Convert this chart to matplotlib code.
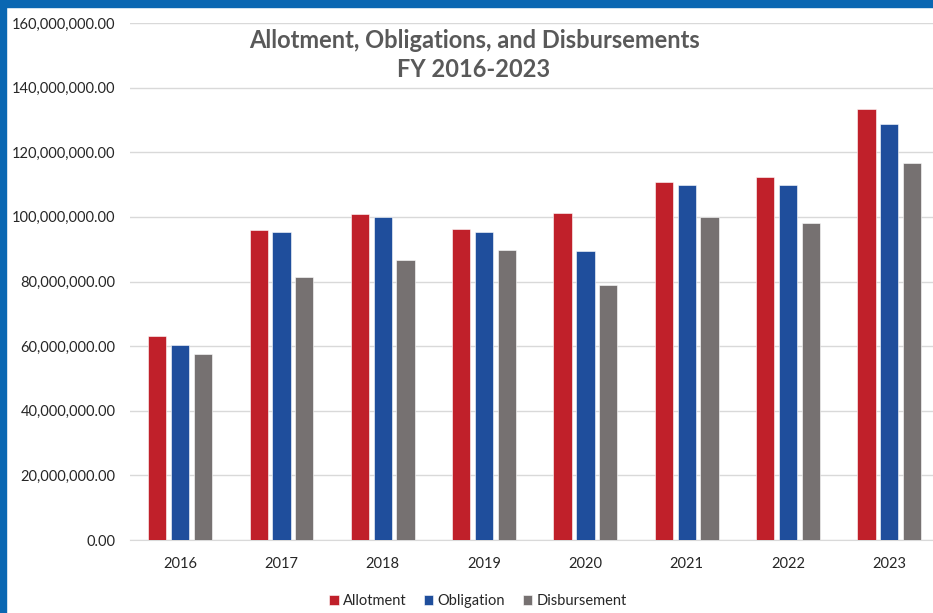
import matplotlib.pyplot as plt
from matplotlib.patches import Rectangle
from matplotlib.ticker import FuncFormatter
import numpy as np

years = ['2016', '2017', '2018', '2019', '2020', '2021', '2022', '2023']
allotment = [63.1e6, 96.0e6, 100.9e6, 96.3e6, 101.2e6, 110.8e6, 112.4e6, 133.4e6]
obligation = [60.4e6, 95.4e6, 100.0e6, 95.4e6, 89.5e6, 109.9e6, 109.9e6, 128.8e6]
disbursement = [57.6e6, 81.4e6, 86.7e6, 89.8e6, 79.0e6, 100.0e6, 98.1e6, 116.7e6]

series_names = ['Allotment', 'Obligation', 'Disbursement']
colors = ['#c0202a', '#1f4e9c', '#767171']

plt.rcParams['font.family'] = ['Lato', 'DejaVu Sans']

W, H = 933, 613
fig = plt.figure(figsize=(W / 100, H / 100), dpi=100)

# axes placed in pixel terms; right edge runs past the image like the source crop
left, right, bottom, top = 129.5, 940, 540, 23
ax = fig.add_axes([left / W, 1 - bottom / H, (right - left) / W, (bottom - top) / H])

x = np.arange(len(years))
width = 0.18
step = 0.225
for i, (vals, name, c) in enumerate(zip([allotment, obligation, disbursement], series_names, colors)):
    ax.bar(x + (i - 1) * step, vals, width, color=c, label=name,
           edgecolor='white', linewidth=0.4, zorder=3)

ax.set_xlim(-0.5, len(years) - 0.5)
ax.set_ylim(0, 160e6)
ax.set_yticks(np.arange(0, 160e6 + 1, 20e6))
ax.yaxis.set_major_formatter(FuncFormatter(lambda v, p: f'{v:,.2f}'))
ax.set_xticks(x)
ax.set_xticklabels(years)
ax.grid(axis='y', color='#d9d9d9', linewidth=1, zorder=0)
for s in ['top', 'right', 'left']:
    ax.spines[s].set_visible(False)
ax.spines['bottom'].set_color('#d9d9d9')
ax.tick_params(length=0, labelsize=10.5, labelcolor='#262626')
ax.tick_params(axis='x', pad=12)
ax.tick_params(axis='y', pad=10)

fig.text(474 / W, 1 - 55 / H, 'Allotment, Obligations, and Disbursements\nFY 2016-2023',
         ha='center', va='center', fontsize=17, fontweight='bold', color='#595959',
         linespacing=1.3)

fig.legend(loc='center', bbox_to_anchor=(478 / W, 1 - 601 / H), ncol=3, frameon=False,
           fontsize=10.5, handlelength=0.65, handleheight=0.65, handletextpad=0.3,
           columnspacing=1.2, labelcolor='#262626')

# blue frame on top and left
blue = '#0a67b2'
fig.patches.append(Rectangle((0, 1 - 7 / H), 1, 7 / H, transform=fig.transFigure,
                             color=blue, zorder=10))
fig.patches.append(Rectangle((0, 0), 6 / W, 1, transform=fig.transFigure,
                             color=blue, zorder=10))

fig.savefig('out.png', dpi=100)
plt.close()
